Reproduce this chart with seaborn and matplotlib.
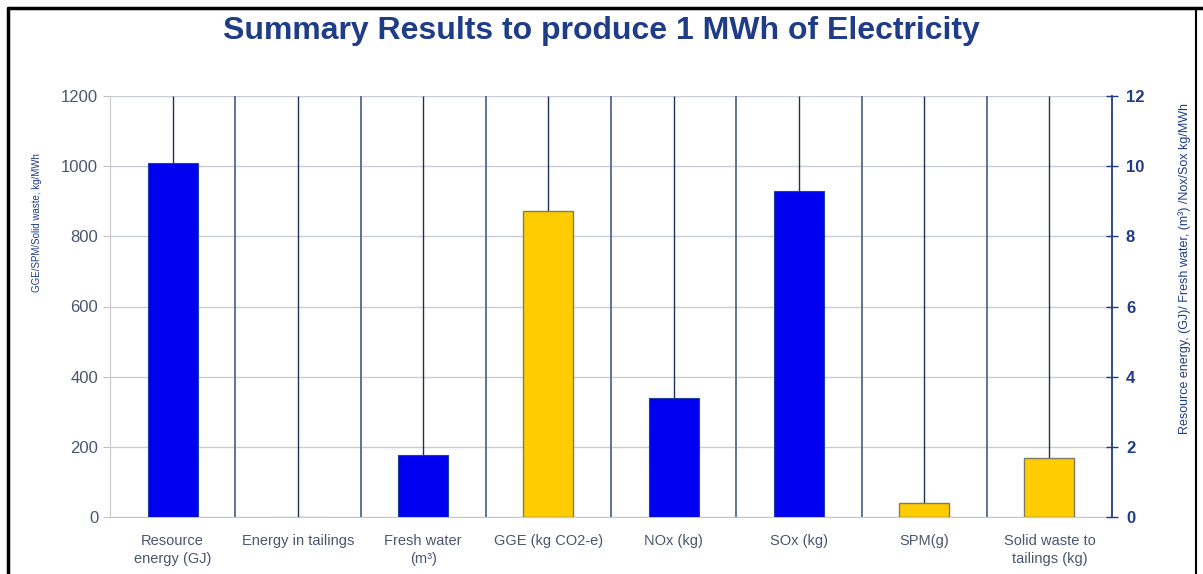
import numpy as np
import pandas as pd
import matplotlib
matplotlib.use("Agg")
import matplotlib.pyplot as plt
from matplotlib.lines import Line2D
import seaborn as sns

# data
categories = ["Resource\nenergy (GJ)", "Energy in tailings", "Fresh water\n(m³)",
              "GGE (kg CO2-e)", "NOx (kg)", "SOx (kg)", "SPM(g)",
              "Solid waste to\ntailings (kg)"]
# right axis series (GJ, m3, kg NOx/SOx)
right_cats = ["Resource\nenergy (GJ)", "Energy in tailings", "Fresh water\n(m³)",
              "NOx (kg)", "SOx (kg)"]
right_vals = [10.1, 0.0, 1.77, 3.39, 9.29]
# left axis series (GGE, SPM, solid waste)
left_cats = ["GGE (kg CO2-e)", "SPM(g)", "Solid waste to\ntailings (kg)"]
left_vals = [872, 41, 167]

sns.set_style("white")
plt.rcParams['font.family'] = ['Liberation Sans', 'DejaVu Sans']

navy = "#1F3C88"
grey_txt = "#4A5670"

df_left = pd.DataFrame({"category": left_cats, "value": left_vals})
df_right = pd.DataFrame({"category": right_cats, "value": right_vals})

fig = plt.figure(figsize=(12.03, 5.74), dpi=100)
ax = fig.add_axes([110 / 1203, 57 / 574, 1002 / 1203, 421 / 574])
ax2 = ax.twinx()

sns.barplot(data=df_left, x="category", y="value", order=categories,
            color="#FFCC00", saturation=1, width=0.4, edgecolor="#807A60",
            linewidth=1, ax=ax, zorder=3)
sns.barplot(data=df_right, x="category", y="value", order=categories,
            color="#0000F0", saturation=1, width=0.4, edgecolor="#2040A0",
            linewidth=0.8, ax=ax2, zorder=3)

ax.set_ylim(0, 1200)
ax2.set_ylim(0, 12)
ax.set_xlim(-0.5, len(categories) - 0.5)

# drop lines from bar tops to the top of the plot
pos = {c: i for i, c in enumerate(categories)}
ax.vlines([pos[c] for c in left_cats], left_vals, 1200, color="#203050",
          linewidth=1, zorder=2)
ax2.vlines([pos[c] for c in right_cats], right_vals, 12, color="#203050",
           linewidth=1, zorder=2)

# category separators
for b in np.arange(0.5, len(categories) - 0.5, 1):
    ax.axvline(b, color="#5F7390", linewidth=1.4, zorder=1)

ax.set_yticks(np.arange(0, 1201, 200))
ax.yaxis.grid(True, color="#C8CCD4", linewidth=1)
ax.set_axisbelow(True)
ax2.set_yticks(np.arange(0, 13, 2))

for s in ["top", "right", "bottom", "left"]:
    ax.spines[s].set_visible(False)
    ax2.spines[s].set_visible(False)
ax.spines["left"].set_visible(True)
ax.spines["left"].set_color("#C8C8C8")
ax.spines["bottom"].set_visible(True)
ax.spines["bottom"].set_color("#C8C8C8")
ax2.spines["right"].set_visible(True)
ax2.spines["right"].set_color(navy)
ax2.spines["right"].set_linewidth(1.3)

ax.tick_params(axis="y", colors="#C0C0C0", labelcolor=grey_txt, labelsize=12,
               length=5, direction="out", left=True)
ax.tick_params(axis="x", colors="#C0C0C0", labelcolor=grey_txt, labelsize=10.5,
               length=0, pad=12)
for t in ax.get_xticklabels():
    t.set_linespacing(1.35)
ax2.tick_params(axis="y", colors=navy, labelcolor=navy, labelsize=12,
                length=8, width=1, direction="inout", right=True, pad=6)
for t in ax2.get_yticklabels():
    t.set_fontweight("bold")

ax.set_xlabel("")
ax2.set_xlabel("")
ax.set_ylabel("GGE/SPM/Solid waste, kg/MWh", color=navy, fontsize=7)
ax.yaxis.set_label_coords(-0.068, 0.70)
ax2.set_ylabel("Resource energy, (GJ)/ Fresh water, (m³) /Nox/Sox kg/MWh",
               color=navy, fontsize=9)
ax2.yaxis.set_label_coords(1.066, 0.59)

fig.text(0.5, 1 - 31 / 574, "Summary Results to produce 1 MWh of Electricity",
         ha="center", va="center", fontsize=23, fontweight="bold", color=navy)

# outer frame
fig.add_artist(Line2D([8 / 1203, 8 / 1203], [0, 1 - 8 / 574], color="black",
                      linewidth=2.5, transform=fig.transFigure))
fig.add_artist(Line2D([8 / 1203, 1], [1 - 8 / 574, 1 - 8 / 574], color="black",
                      linewidth=2.5, transform=fig.transFigure))
fig.add_artist(Line2D([1196 / 1203, 1196 / 1203], [0, 1 - 8 / 574], color="black",
                      linewidth=1.5, transform=fig.transFigure))

fig.savefig("out.png", dpi=100)
